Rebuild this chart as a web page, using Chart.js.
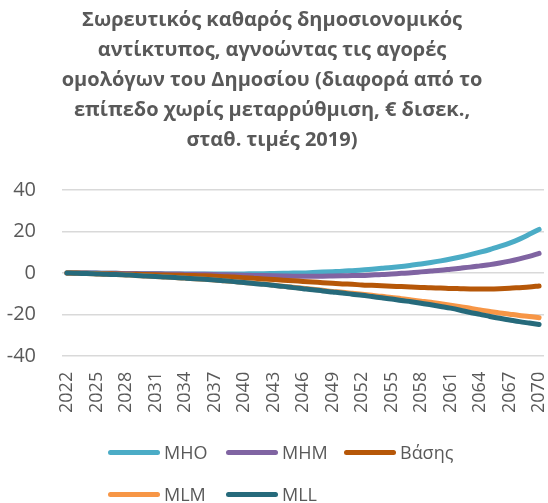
<!DOCTYPE html>
<html lang="el">
<head>
<meta charset="utf-8">
<script src="https://cdn.jsdelivr.net/npm/chart.js@4"></script>
<style>
  html, body { margin: 0; padding: 0; background: #fff; }
  #wrap { position: relative; width: 548px; height: 503px; overflow: hidden; }
  #legend {
    position: absolute; left: 108px; top: 441px;
    display: grid; grid-template-columns: 118px 118px 118px; row-gap: 20px;
    font: 18px 'Open Sans', sans-serif; color: #595959;
  }
  .item { display: flex; align-items: center; height: 22px; white-space: nowrap; }
  .swatch { width: 52px; height: 5px; border-radius: 3px; margin-right: 4px; }
</style>
</head>
<body>
<div id="wrap">
  <canvas id="myChart" width="548" height="503"></canvas>
  <div id="legend"></div>
</div>
<script>
const ctx = document.getElementById('myChart');

const years = [
  2022, 2023, 2024, 2025, 2026, 2027, 2028, 2029, 2030, 2031,
  2032, 2033, 2034, 2035, 2036, 2037, 2038, 2039, 2040, 2041,
  2042, 2043, 2044, 2045, 2046, 2047, 2048, 2049, 2050, 2051,
  2052, 2053, 2054, 2055, 2056, 2057, 2058, 2059, 2060, 2061,
  2062, 2063, 2064, 2065, 2066, 2067, 2068, 2069, 2070
];

// € bn, cumulative difference from the no-reform path
const mho = [
  0, 0, -0.1, -0.1, -0.2, -0.2, -0.3, -0.3, -0.4, -0.4,
  -0.5, -0.5, -0.5, -0.5, -0.5, -0.5, -0.5, -0.5, -0.5, -0.4,
  -0.4, -0.3, -0.2, -0.1, 0, 0.2, 0.4, 0.6, 0.8, 1.1,
  1.4, 1.8, 2.2, 2.6, 3.1, 3.7, 4.3, 5.0, 5.8, 6.7,
  7.7, 8.8, 10.0, 11.3, 12.8, 14.4, 16.3, 18.6, 21.0
];
const mhm = [
  0, 0, -0.1, -0.1, -0.2, -0.2, -0.3, -0.3, -0.4, -0.4,
  -0.5, -0.5, -0.6, -0.6, -0.7, -0.8, -0.9, -1.0, -1.1, -1.2,
  -1.3, -1.4, -1.5, -1.6, -1.6, -1.6, -1.6, -1.5, -1.4, -1.3,
  -1.2, -1.0, -0.8, -0.5, -0.2, 0.1, 0.5, 0.9, 1.3, 1.8,
  2.3, 2.8, 3.4, 4.0, 4.8, 5.7, 6.8, 8.0, 9.4
];
const baseline = [
  0, -0.1, -0.2, -0.3, -0.4, -0.5, -0.6, -0.7, -0.8, -0.9,
  -1.0, -1.1, -1.2, -1.3, -1.4, -1.6, -1.8, -2.0, -2.3, -2.6,
  -2.9, -3.2, -3.5, -3.8, -4.1, -4.4, -4.7, -5.0, -5.3, -5.5,
  -5.8, -6.0, -6.2, -6.4, -6.6, -6.8, -7.0, -7.2, -7.3, -7.5,
  -7.6, -7.7, -7.7, -7.7, -7.6, -7.4, -7.1, -6.8, -6.3
];
const mlm = [
  0, -0.2, -0.3, -0.5, -0.7, -0.8, -1.0, -1.2, -1.5, -1.7,
  -2.0, -2.2, -2.5, -2.8, -3.1, -3.4, -3.8, -4.2, -4.6, -5.0,
  -5.4, -5.9, -6.4, -6.9, -7.4, -7.9, -8.4, -8.9, -9.3, -9.8,
  -10.3, -10.8, -11.3, -11.9, -12.4, -13.0, -13.6, -14.2, -14.9, -15.6,
  -16.3, -17.0, -17.9, -18.6, -19.3, -19.9, -20.5, -21.0, -21.6
];
const mll = [
  0, -0.2, -0.3, -0.5, -0.7, -0.8, -1.0, -1.2, -1.5, -1.7,
  -2.0, -2.2, -2.5, -2.8, -3.1, -3.4, -3.8, -4.2, -4.6, -5.1,
  -5.5, -6.0, -6.5, -7.1, -7.6, -8.1, -8.7, -9.2, -9.7, -10.3,
  -10.8, -11.4, -12.0, -12.6, -13.3, -13.9, -14.6, -15.4, -16.2, -17.0,
  -18.0, -19.1, -20.0, -21.0, -21.9, -22.7, -23.5, -24.2, -24.9
];

const seriesNames = ['MHO', 'MHM', 'Βάσης', 'MLM', 'MLL'];
const seriesData = [mho, mhm, baseline, mlm, mll];
const seriesColors = ['#4BACC6', '#8064A2', '#B65708', '#F79646', '#266A7B'];

const titleLines = [
  'Σωρευτικός καθαρός δημοσιονομικός',
  'αντίκτυπος, αγνοώντας τις αγορές',
  'ομολόγων του Δημοσίου (διαφορά από το',
  'επίπεδο χωρίς μεταρρύθμιση, € δισεκ.,',
  'σταθ. τιμές 2019)'
];

const grey = '#595959';
const fontFamily = "'Open Sans', sans-serif";

const chart = new Chart(ctx, {
  type: 'line',
  data: {
    labels: years,
    datasets: seriesNames.map((name, i) => ({
      label: name,
      data: seriesData[i],
      borderColor: seriesColors[i],
      backgroundColor: seriesColors[i],
      order: seriesNames.length - i, // later series on top
      fill: false
    }))
  },
  options: {
    responsive: false,
    animation: false,
    layout: { padding: { left: 0, right: 4, top: 0, bottom: 74 } },
    elements: {
      point: { radius: 0 },
      line: { borderWidth: 5, cubicInterpolationMode: 'monotone', borderCapStyle: 'round', borderJoinStyle: 'round' }
    },
    plugins: {
      legend: { display: false },
      tooltip: { enabled: false },
      title: {
        display: true,
        text: titleLines,
        color: grey,
        font: { family: fontFamily, size: 20, weight: 'bold', lineHeight: 1.5 },
        padding: { top: 5, bottom: 35 }
      }
    },
    scales: {
      x: {
        offset: true,
        grid: { display: false, drawTicks: false },
        border: { display: false },
        ticks: {
          autoSkip: false,
          minRotation: 90,
          maxRotation: 90,
          padding: 16,
          color: grey,
          font: { family: fontFamily, size: 18 },
          callback: (v, i) => (i % 3 === 0 ? years[i] : '')
        },
        // keep the rotated end labels from squeezing the plot sideways
        afterFit: (scale) => {
          scale.paddingLeft = 0;
          scale.paddingRight = 0;
        }
      },
      y: {
        min: -40,
        max: 40,
        grid: { color: '#D9D9D9', lineWidth: 1.5, drawTicks: false },
        border: { display: false },
        ticks: { stepSize: 20, padding: 26, color: grey, font: { family: fontFamily, size: 20 } },
        afterFit: (scale) => {
          scale.width = 62;
        }
      }
    }
  }
});

// legend below the plot, rows left-aligned
const legend = document.getElementById('legend');
chart.data.datasets.forEach(ds => {
  const item = document.createElement('div');
  item.className = 'item';
  const sw = document.createElement('span');
  sw.className = 'swatch';
  sw.style.background = ds.borderColor;
  const txt = document.createElement('span');
  txt.textContent = ds.label;
  item.appendChild(sw);
  item.appendChild(txt);
  legend.appendChild(item);
});
</script>
</body>
</html>
